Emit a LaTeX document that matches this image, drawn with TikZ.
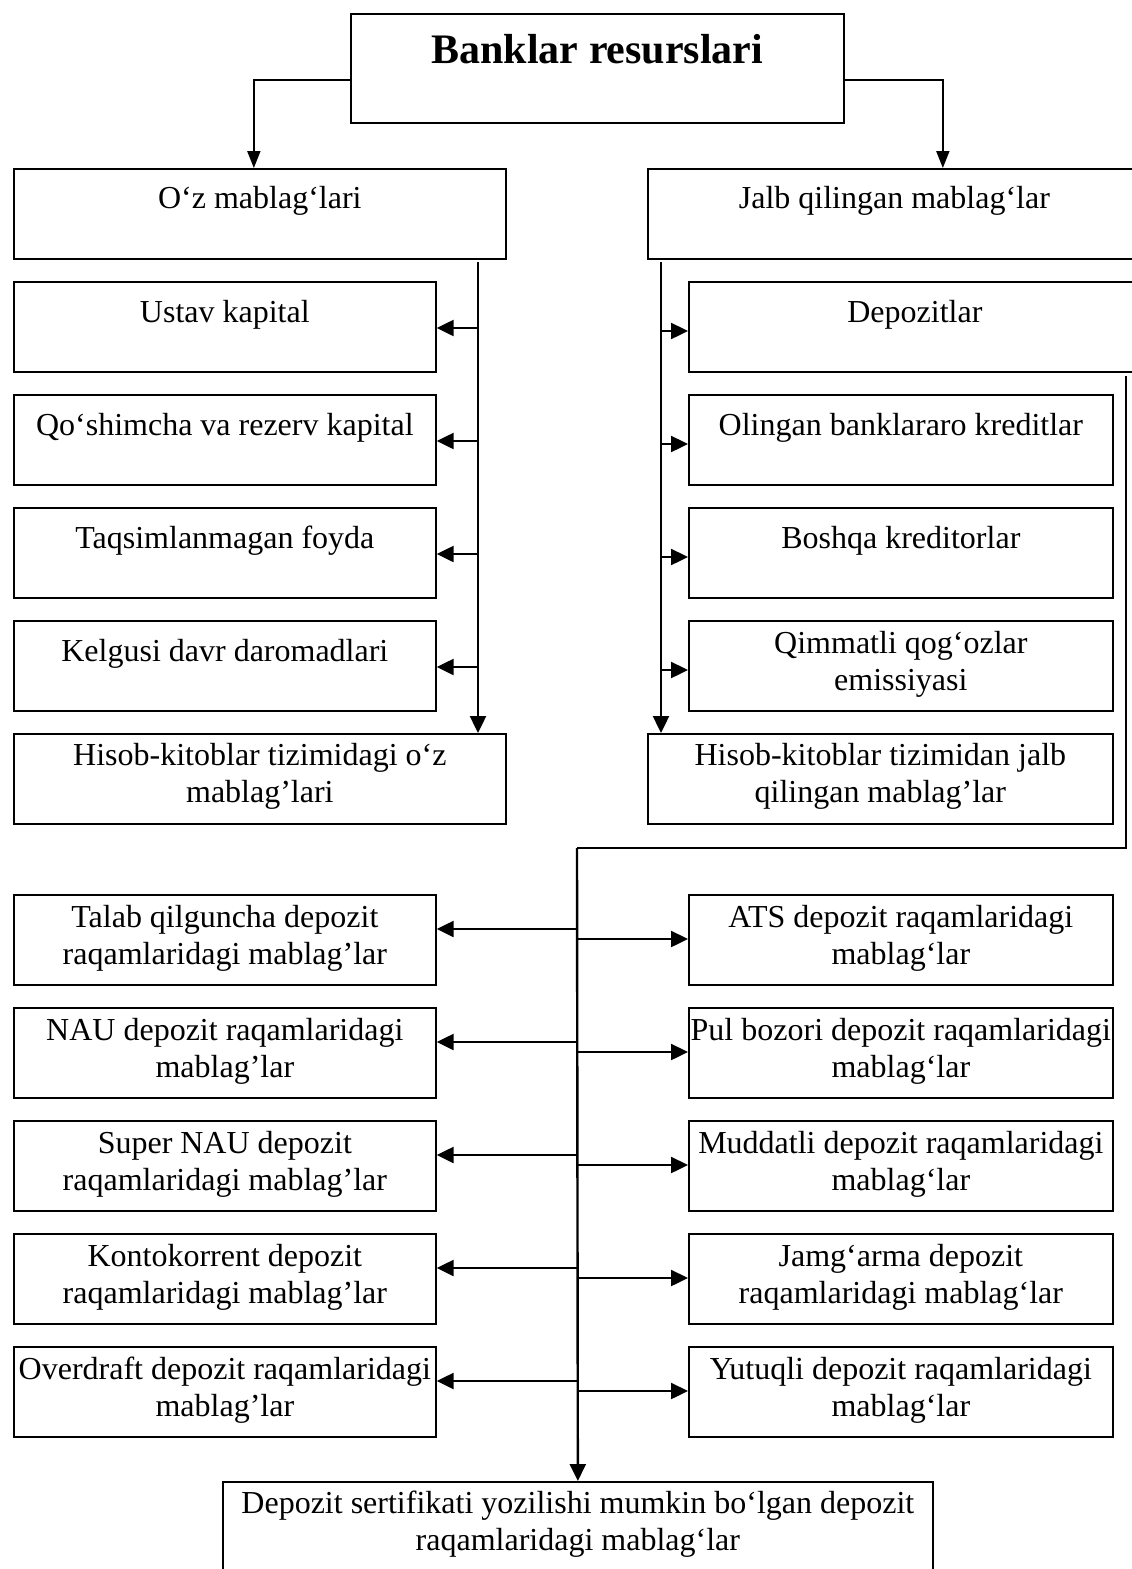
\documentclass[tikz,border=0pt]{standalone}
\usepackage{fontspec}
\setmainfont{Liberation Serif}
\usetikzlibrary{arrows.meta}
\newcommand\twoline[2]{\begin{tabular}[t]{@{}c@{}}#1\\#2\end{tabular}}
\begin{document}
\begin{tikzpicture}[x=1pt,y=-1pt,
  box/.style={draw,line width=1.7pt,rectangle,inner sep=0pt,anchor=north west},
  txt/.style={anchor=base,inner sep=0pt,font=\fontsize{32}{37}\selectfont},
  ttl/.style={anchor=base,inner sep=0pt,font=\fontsize{42}{48}\selectfont\bfseries},
  arr/.style={line width=2.4pt,-{Triangle[length=17pt,width=16pt]}},
  thinarr/.style={line width=1.9pt,-{Triangle[length=17pt,width=13pt]}},
  trunk/.style={line width=2.2pt}]
\useasboundingbox (0,0) rectangle (1132,1569);
\clip (0,0) rectangle (1132,1569);
% ---- top level
\node[box,minimum width=493pt,minimum height=109pt] (top) at (350,13) {};
\node[ttl] (top-t) at ([yshift=-50pt]top.north) {Banklar resurslari};
\node[box,minimum width=492pt,minimum height=90pt] (oz) at (13,168) {};
\node[txt] (oz-t) at ([yshift=-40pt]oz.north) {O‘z mablag‘lari};
\node[box,minimum width=493pt,minimum height=90pt] (jalb) at (647,168) {};
\node[txt] (jalb-t) at ([yshift=-40pt]jalb.north) {Jalb qilingan mablag‘lar};
\draw[thinarr] ([yshift=-67pt]top.north west) -| ([xshift=-6pt]oz.north);
\draw[thinarr] ([yshift=-67pt]top.north east) -| ([xshift=48.5pt]jalb.north);
% ---- left column
\node[box,minimum width=422pt,minimum height=90pt] (ustav) at (13,281) {};
\node[txt] (ustav-t) at ([yshift=-41pt]ustav.north) {Ustav kapital};
\node[box,minimum width=422pt,minimum height=90pt] (qosh) at (13,394) {};
\node[txt] (qosh-t) at ([yshift=-41pt]qosh.north) {Qo‘shimcha va rezerv kapital};
\node[box,minimum width=422pt,minimum height=90pt] (taqs) at (13,507) {};
\node[txt] (taqs-t) at ([yshift=-41pt]taqs.north) {Taqsimlanmagan foyda};
\node[box,minimum width=422pt,minimum height=90pt] (kelg) at (13,620) {};
\node[txt] (kelg-t) at ([yshift=-41pt]kelg.north) {Kelgusi davr daromadlari};
\node[box,minimum width=492pt,minimum height=90pt] (hisL) at (13,733) {};
\node[txt] (hisL-t) at ([yshift=-32pt]hisL.north) {\twoline{Hisob-kitoblar tizimidagi o‘z}{mablag’lari}};
\coordinate (lt) at (478,262);
\draw[arr] (lt) -- (lt |- hisL.north);
\foreach \n in {ustav,qosh,taqs,kelg}{
  \path ([yshift=-47pt]\n.north east) coordinate (\n-in);
  \draw[arr] (lt |- \n-in) -- (\n-in);
}
% ---- right column
\node[box,minimum width=452pt,minimum height=90pt] (depo) at (688,281) {};
\node[txt] (depo-t) at ([yshift=-41pt]depo.north) {Depozitlar};
\node[box,minimum width=424pt,minimum height=90pt] (olin) at (688,394) {};
\node[txt] (olin-t) at ([yshift=-41pt]olin.north) {Olingan banklararo kreditlar};
\node[box,minimum width=424pt,minimum height=90pt] (bosh) at (688,507) {};
\node[txt] (bosh-t) at ([yshift=-41pt]bosh.north) {Boshqa kreditorlar};
\node[box,minimum width=424pt,minimum height=90pt] (qimm) at (688,620) {};
\node[txt] (qimm-t) at ([yshift=-33pt]qimm.north) {\twoline{Qimmatli qog‘ozlar}{emissiyasi}};
\node[box,minimum width=465pt,minimum height=90pt] (hisR) at (647,733) {};
\node[txt] (hisR-t) at ([yshift=-32pt]hisR.north) {\twoline{Hisob-kitoblar tizimidan jalb}{qilingan mablag’lar}};
\coordinate (rt) at (661,262);
\draw[arr] (rt) -- (rt |- hisR.north);
\foreach \n in {depo,olin,bosh,qimm}{
  \path ([yshift=-50pt]\n.north west) coordinate (\n-in);
  \draw[arr] (rt |- \n-in) -- (\n-in);
}
% ---- deposit types
\node[box,minimum width=710pt,minimum height=100pt] (bot) at (222,1481) {};
\node[txt] (bot-t) at ([yshift=-32pt]bot.north) {\twoline{Depozit sertifikati yozilishi mumkin bo‘lgan depozit}{raqamlaridagi mablag‘lar}};
\coordinate (rr) at (1126,376);
\coordinate (jn) at (577,848);
\draw[trunk] (rr) |- (jn);
\draw[arr] (jn) -- (bot.north);
\foreach \n/\y/\a/\b in {
  la/894/Talab qilguncha depozit/raqamlaridagi mablag’lar,
  lb/1007/NAU depozit raqamlaridagi/mablag’lar,
  lc/1120/Super NAU depozit/raqamlaridagi mablag’lar,
  ld/1233/Kontokorrent depozit/raqamlaridagi mablag’lar,
  le/1346/Overdraft depozit raqamlaridagi/mablag’lar}{
  \node[box,minimum width=422pt,minimum height=90pt] (\n) at (13,\y) {};
  \node[txt] (\n-t) at ([yshift=-33pt]\n.north) {\twoline{\a}{\b}};
  \path ([yshift=-35pt]\n.north east) coordinate (\n-in);
  \draw[arr] (jn |- \n-in) -- (\n-in);
}
\foreach \n/\y/\a/\b in {
  ra/894/ATS depozit raqamlaridagi/mablag‘lar,
  rb/1007/Pul bozori depozit raqamlaridagi/mablag‘lar,
  rc/1120/Muddatli depozit raqamlaridagi/mablag‘lar,
  rd/1233/Jamg‘arma depozit/raqamlaridagi mablag‘lar,
  re/1346/Yutuqli depozit raqamlaridagi/mablag‘lar}{
  \node[box,minimum width=424pt,minimum height=90pt] (\n) at (688,\y) {};
  \node[txt] (\n-t) at ([yshift=-33pt]\n.north) {\twoline{\a}{\b}};
  \path ([yshift=-45pt]\n.north west) coordinate (\n-in);
  \draw[arr] (jn |- \n-in) -- (\n-in);
}
\end{tikzpicture}
\end{document}
